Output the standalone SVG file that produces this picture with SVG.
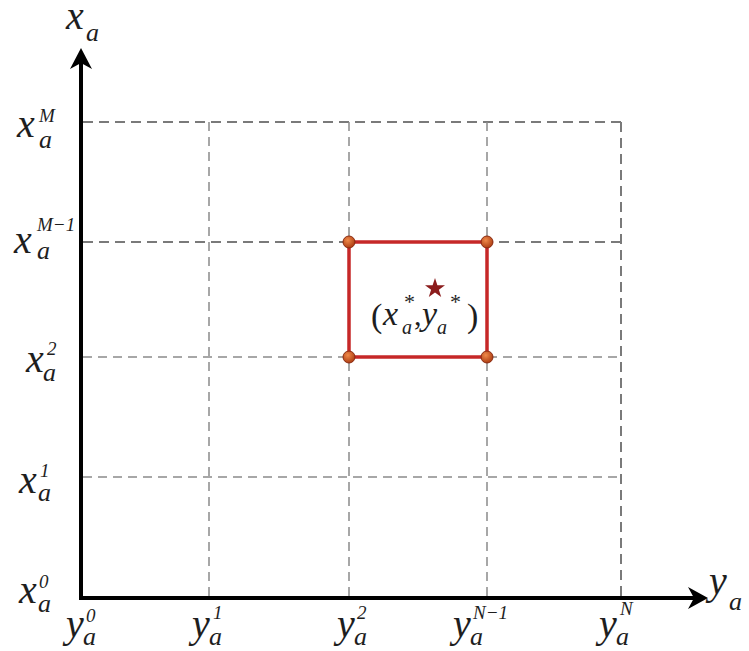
<svg xmlns="http://www.w3.org/2000/svg" width="749" height="651" viewBox="0 0 749 651">
<style>
text{font-family:"Liberation Serif","Times New Roman",serif;font-style:italic;fill:#1e1e1e}
.m{font-size:40px}
.sb{font-size:26px}
.sp{font-size:19px}
.g{stroke:#8a8a8a;stroke-width:1.5;stroke-dasharray:9 6;fill:none}
.gt{stroke:#7a7a7a;stroke-width:2;stroke-dasharray:10 6;fill:none}
.ax{stroke:#000;stroke-width:4;fill:none}
.dot{fill:url(#dg);stroke:#8a2a10;stroke-width:1}
</style>
<defs>
<radialGradient id="dg" cx="0.4" cy="0.35" r="0.7">
<stop offset="0" stop-color="#f08a4a"/>
<stop offset="1" stop-color="#a8380f"/>
</radialGradient>
</defs>
<rect width="749" height="651" fill="#fff"/>
<g id="grid">
<line class="gt" x1="83" y1="122" x2="621" y2="122"/>
<line class="gt" x1="83" y1="242" x2="621" y2="242"/>
<line class="g" x1="83" y1="357" x2="621" y2="357"/>
<line class="g" x1="83" y1="477" x2="621" y2="477"/>
<line class="g" x1="209" y1="122" x2="209" y2="596"/>
<line class="g" x1="349" y1="122" x2="349" y2="596"/>
<line class="g" x1="487" y1="122" x2="487" y2="596"/>
<line class="gt" x1="621" y1="122" x2="621" y2="596"/>
</g>
<g id="connectors">
<line class="ax" x1="81" y1="600" x2="81" y2="62"/>
<line class="ax" x1="79" y1="598" x2="696" y2="598"/>
<path d="M81 48 L92 69 L81 63 L70 69 Z" fill="#000"/>
<path d="M708 598 L688 587 L694 598 L688 609 Z" fill="#000"/>
</g>
<g id="cell">
<rect x="349" y="242" width="138" height="115" fill="none" stroke="#c62828" stroke-width="3.5"/>
<circle class="dot" cx="349" cy="242" r="6"/>
<circle class="dot" cx="487" cy="242" r="6"/>
<circle class="dot" cx="349" cy="357" r="6"/>
<circle class="dot" cx="487" cy="357" r="6"/>
<path d="M435 278 L437.4 285.2 L445 285.3 L438.9 289.8 L441.2 297 L435 292.6 L428.8 297 L431.1 289.8 L425 285.3 L432.6 285.2 Z" fill="#8b1c1c"/>
</g>
<g id="point-label">
<text x="371" y="327" style="font-style:normal;font-size:34px">(</text>
<text x="383" y="325" style="font-size:34px">x</text>
<text x="404" y="309" style="font-style:normal;font-size:22px">*</text>
<text x="402" y="334" style="font-size:20px">a</text>
<text x="414" y="325" style="font-style:normal;font-size:30px">,</text>
<text x="422" y="325" style="font-size:34px">y</text>
<text x="450" y="309" style="font-style:normal;font-size:22px">*</text>
<text x="437" y="334" style="font-size:20px">a</text>
<text x="467" y="327" style="font-style:normal;font-size:34px">)</text>
</g>
<g id="x-axis-label">
<text class="m" x="66" y="29">x</text>
<text class="sb" x="86" y="41">a</text>
</g>
<g id="y-axis-label">
<text class="m" x="709" y="594">y</text>
<text class="sb" x="729" y="610">a</text>
</g>
<g id="label-xM">
<text class="m" x="17" y="137">x</text>
<text class="sp" x="39" y="122">M</text>
<text class="sb" x="39" y="148">a</text>
</g>
<g id="label-xM1">
<text class="m" x="14" y="253">x</text>
<text class="sp" x="37" y="231">M−1</text>
<text class="sb" x="37" y="259">a</text>
</g>
<g id="label-x2">
<text class="m" x="26" y="372">x</text>
<text class="sp" x="47" y="355">2</text>
<text class="sb" x="43" y="381">a</text>
</g>
<g id="label-x1">
<text class="m" x="19" y="493">x</text>
<text class="sp" x="40" y="477">1</text>
<text class="sb" x="38" y="501">a</text>
</g>
<g id="label-x0">
<text class="m" x="19" y="603">x</text>
<text class="sp" x="39" y="588">0</text>
<text class="sb" x="38" y="612">a</text>
</g>
<g id="label-y0">
<text class="m" x="66" y="637">y</text>
<text class="sp" x="86" y="622">0</text>
<text class="sb" x="83" y="645">a</text>
</g>
<g id="label-y1">
<text class="m" x="192" y="637">y</text>
<text class="sp" x="213" y="619">1</text>
<text class="sb" x="209" y="645">a</text>
</g>
<g id="label-y2">
<text class="m" x="337" y="637">y</text>
<text class="sp" x="357" y="619">2</text>
<text class="sb" x="354" y="645">a</text>
</g>
<g id="label-yN1">
<text class="m" x="453" y="637">y</text>
<text class="sp" x="473" y="619">N−1</text>
<text class="sb" x="470" y="645">a</text>
</g>
<g id="label-yN">
<text class="m" x="599" y="637">y</text>
<text class="sp" x="620" y="615">N</text>
<text class="sb" x="616" y="645">a</text>
</g>
</svg>
